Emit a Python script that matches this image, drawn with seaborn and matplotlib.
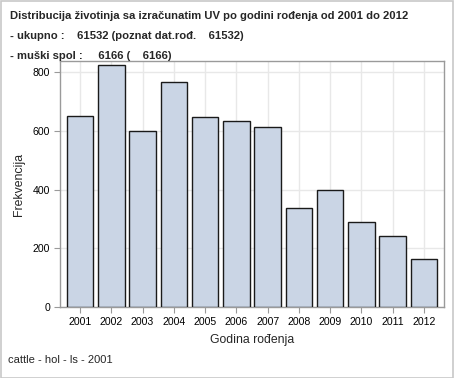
import matplotlib
matplotlib.use("Agg")
import matplotlib.pyplot as plt
import seaborn as sns
import pandas as pd
from matplotlib.patches import Rectangle

years = ["2001", "2002", "2003", "2004", "2005", "2006", "2007", "2008", "2009", "2010", "2011", "2012"]
counts = [652, 823, 599, 767, 646, 634, 614, 337, 399, 288, 242, 164]
yticks = [0, 200, 400, 600, 800]

title_lines = [
    "Distribucija životinja sa izračunatim UV po godini rođenja od 2001 do 2012",
    "- ukupno :    61532 (poznat dat.rođ.    61532)",
    "- muški spol :     6166 (    6166)",
]
footnote = "cattle - hol - ls - 2001"

sns.set_theme(style="whitegrid")
plt.rcParams["font.family"] = ["Liberation Sans", "DejaVu Sans"]

df = pd.DataFrame({"year": years, "count": counts})

W, H = 454, 378
fig = plt.figure(figsize=(W / 100, H / 100), dpi=100)
ax = fig.add_axes([60 / W, 1 - 307 / H, (444 - 60) / W, (307 - 61) / H])

sns.barplot(data=df, x="year", y="count", ax=ax, color="#CAD5E5",
            saturation=1, width=0.85, edgecolor="#1a1a1a", linewidth=1.0, zorder=3)

ax.set_xlim(-0.64, 11.64)
ax.set_ylim(0, 838)
ax.set_yticks(yticks)
ax.set_yticklabels([str(v) for v in yticks])
ax.grid(True, color="#E8E8E8", linewidth=1.0, zorder=0)
ax.set_axisbelow(True)
for s in ax.spines.values():
    s.set_color("#9A9A9A")
    s.set_linewidth(1.0)
ax.tick_params(axis="both", which="both", length=4, width=0.8, color="#9A9A9A",
               labelsize=7.6, labelcolor="#000000", pad=3, direction="out",
               bottom=True, left=True)
ax.set_xlabel("Godina rođenja", fontsize=8.8, labelpad=5)
ax.set_ylabel("Frekvencija", fontsize=8.8, labelpad=6)

ys = [16, 36, 56]
for line, y in zip(title_lines, ys):
    fig.text(10 / W, 1 - y / H, line, fontsize=8.1, fontweight="bold",
             ha="left", va="center")
fig.text(8 / W, 1 - 360 / H, footnote, fontsize=8, ha="left", va="center")

fig.patches.append(Rectangle((0.5 / W, 0.5 / H), 1 - 1.5 / W, 1 - 1.5 / H,
                             transform=fig.transFigure, fill=False,
                             edgecolor="#C8C8C8", linewidth=1.2))

fig.savefig("out.png", dpi=100)
